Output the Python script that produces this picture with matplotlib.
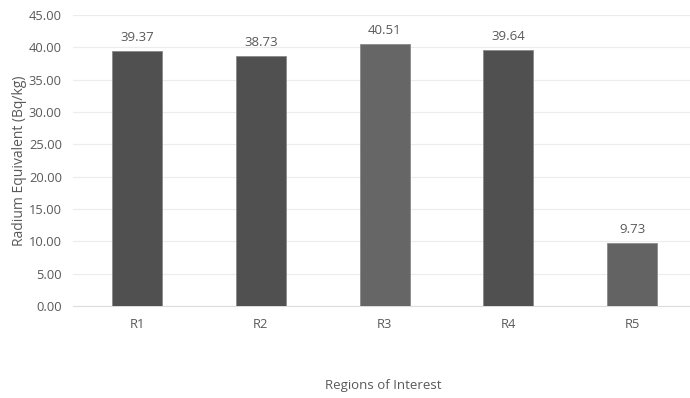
import matplotlib
matplotlib.use("Agg")
import matplotlib.pyplot as plt

regions = ["R1", "R2", "R3", "R4", "R5"]
radium_eq = [39.37, 38.73, 40.51, 39.64, 9.73]
bar_colors = ["#505050", "#505050", "#666666", "#505050", "#636363"]
y_ticks = [0, 5, 10, 15, 20, 25, 30, 35, 40, 45]

plt.rcParams["font.family"] = ["Open Sans", "DejaVu Sans"]
text_color = "#595959"

fig = plt.figure(figsize=(6.9, 3.98), dpi=100)
ax = fig.add_axes([73 / 690, 1 - 306 / 398, (690 - 73) / 690, (306 - 15) / 398])

x = list(range(len(regions)))
bars = ax.bar(x, radium_eq, width=0.404, color=bar_colors,
              edgecolor="#8a8a8a", linewidth=0.6, zorder=3)

for xi, v in zip(x, radium_eq):
    ax.annotate(f"{v:.2f}", (xi, v), xytext=(0, 5), textcoords="offset points",
                ha="center", va="bottom", fontsize=9.5, color=text_color)

ax.set_xlim(-0.517, 4.467)
ax.set_ylim(0, 45)
ax.set_yticks(y_ticks)
ax.set_yticklabels([f"{t:.2f}" for t in y_ticks])
ax.set_xticks(x)
ax.set_xticklabels(regions)

ax.yaxis.grid(True, color="#ececec", linewidth=0.8, zorder=0)
ax.set_axisbelow(True)
for s in ["top", "right", "left"]:
    ax.spines[s].set_visible(False)
ax.spines["bottom"].set_color("#dcdcdc")
ax.spines["bottom"].set_linewidth(0.8)

ax.tick_params(axis="both", length=0, colors=text_color, labelsize=9.3)
ax.tick_params(axis="x", pad=9)
ax.tick_params(axis="y", pad=8)

ax.set_ylabel("Radium Equivalent (Bq/kg)", fontsize=10, color=text_color, labelpad=1)
fig.text(383 / 690, 1 - 385 / 398, "Regions of Interest", ha="center", va="center",
         fontsize=9.5, color=text_color)

fig.savefig("out.png", dpi=100)
